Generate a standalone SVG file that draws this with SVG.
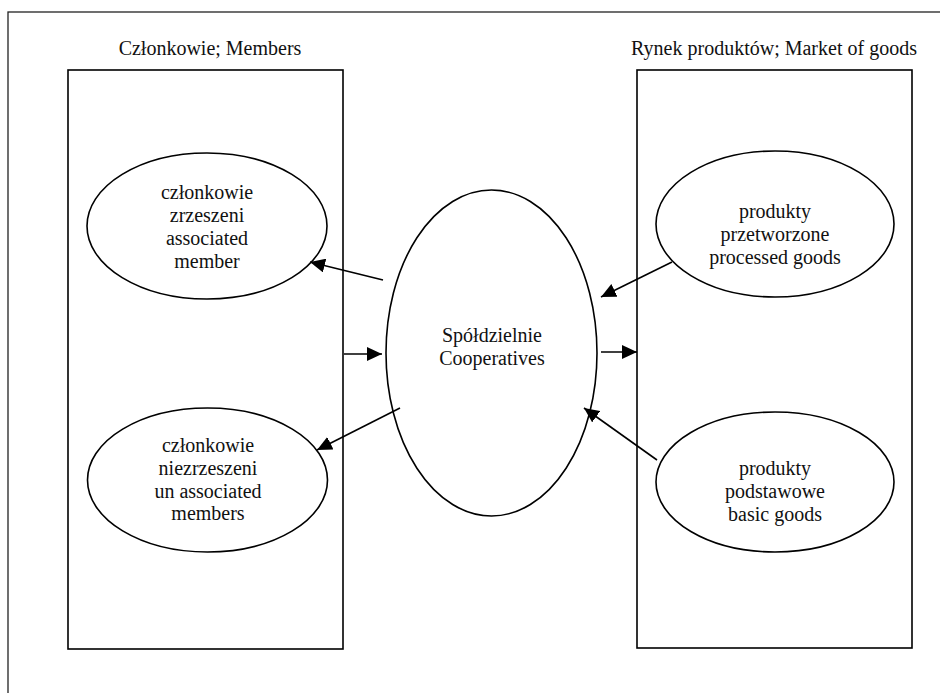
<svg xmlns="http://www.w3.org/2000/svg" width="940" height="693" viewBox="0 0 940 693">
<defs>
<marker id="ah" markerUnits="userSpaceOnUse" markerWidth="16" markerHeight="14" refX="15" refY="7" orient="auto">
<path d="M0,0 L15,7 L0,14 Z" fill="#000"/>
</marker>
<style>
text{font-family:"Liberation Serif","Times New Roman",serif;font-size:20px;fill:#111;text-anchor:middle}
.box{fill:none;stroke:#000;stroke-width:1.6}
.ell{fill:#fff;stroke:#000;stroke-width:1.6}
.con line{stroke:#000;stroke-width:1.6;marker-end:url(#ah)}
</style>
</defs>
<rect width="940" height="693" fill="#fff"/>
<rect x="8" y="12" width="960" height="720" fill="none" stroke="#222" stroke-width="1.3"/>
<g id="members">
<rect class="box" x="68" y="70" width="275" height="579"/>
<text x="210" y="55">Członkowie; Members</text>
</g>
<g id="market">
<rect class="box" x="637" y="70" width="275" height="578"/>
<text x="774" y="55">Rynek produktów; Market of goods</text>
</g>
<g id="associated">
<ellipse class="ell" cx="207" cy="226" rx="120" ry="73"/>
<text x="207" y="199">członkowie</text>
<text x="207" y="222">zrzeszeni</text>
<text x="207" y="245">associated</text>
<text x="207" y="268">member</text>
</g>
<g id="unassociated">
<ellipse class="ell" cx="207.5" cy="480" rx="120" ry="72"/>
<text x="208" y="452">członkowie</text>
<text x="208" y="475">niezrzeszeni</text>
<text x="208" y="498">un associated</text>
<text x="208" y="520">members</text>
</g>
<g id="cooperatives">
<ellipse class="ell" cx="491.5" cy="353" rx="105.5" ry="163"/>
<text x="492" y="342">Spółdzielnie</text>
<text x="492" y="365">Cooperatives</text>
</g>
<g id="processed">
<ellipse class="ell" cx="775" cy="224" rx="119" ry="73"/>
<text x="775" y="218">produkty</text>
<text x="775" y="241">przetworzone</text>
<text x="775" y="264">processed goods</text>
</g>
<g id="basic">
<ellipse class="ell" cx="775" cy="482" rx="119" ry="70"/>
<text x="775" y="475">produkty</text>
<text x="775" y="498">podstawowe</text>
<text x="775" y="521">basic goods</text>
</g>
<g id="connectors" class="con">
<line x1="383" y1="280" x2="310" y2="262"/>
<line x1="344" y1="354" x2="382" y2="354"/>
<line x1="601" y1="352" x2="637" y2="352"/>
<line x1="672" y1="262" x2="601" y2="297"/>
<line x1="657" y1="460" x2="584" y2="408"/>
<line x1="400" y1="408" x2="317" y2="450"/>
</g>
</svg>
